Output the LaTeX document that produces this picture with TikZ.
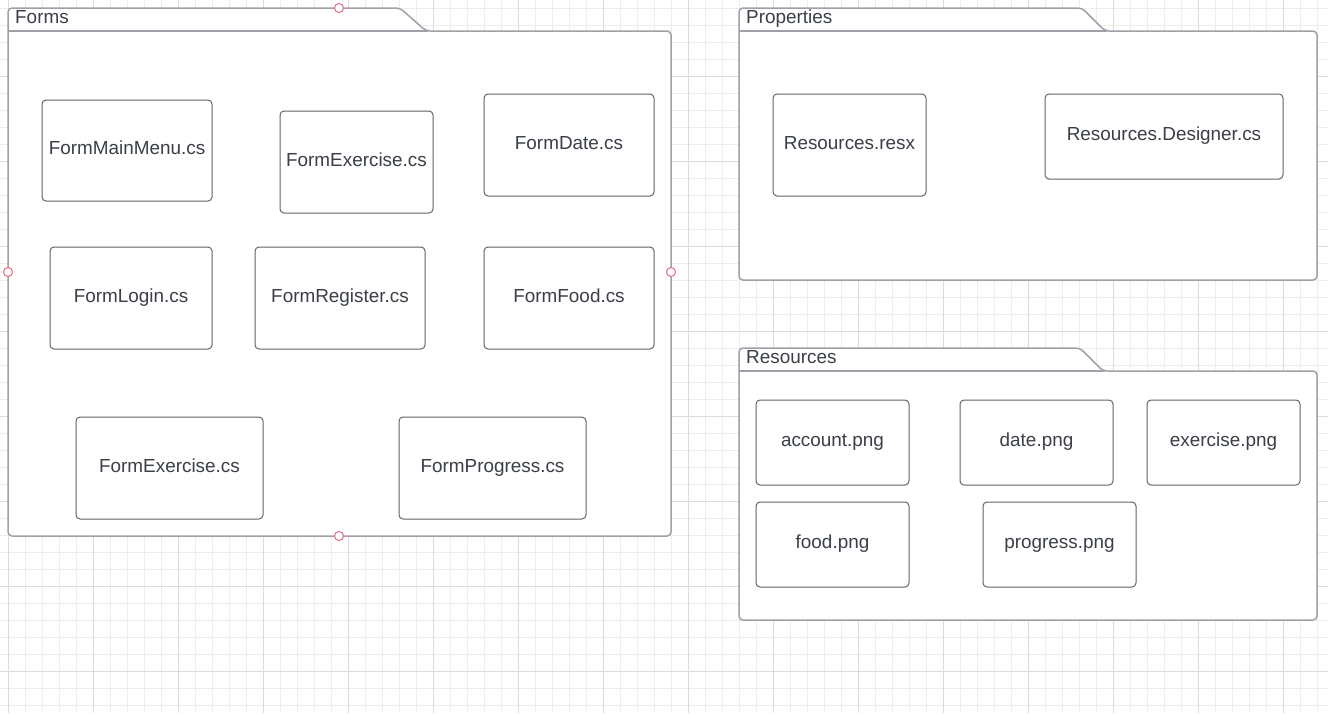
\documentclass[tikz,border=0pt]{standalone}
\usepackage{fontspec}
\setmainfont{Liberation Sans}
\usetikzlibrary{positioning}

\definecolor{gridlight}{HTML}{EDEDED}
\definecolor{griddark}{HTML}{DCDCDC}
\definecolor{foldergray}{HTML}{9EA1A7}
\definecolor{filegray}{HTML}{5F636B}
\definecolor{textgray}{HTML}{3A3F48}
\definecolor{handlered}{HTML}{E86A7C}

\tikzset{
  label font/.style={font=\fontsize{18.9}{22}\selectfont, text=textgray},
  file/.style={draw=filegray, line width=1pt, rounded corners=4, fill=white,
    label font, inner sep=0pt, text height=13.5pt, text depth=5pt},
  folder/.style={draw=foldergray, line width=1.5pt, fill=white},
  foldertitle/.style={label font, anchor=west, inner sep=0pt, text height=13.5pt, text depth=4pt},
  handle/.style={draw=handlered, line width=1pt, fill=white},
  gridminor/.style={draw=gridlight, line width=1pt},
  gridmajor/.style={draw=griddark, line width=1pt}
}

\begin{document}
\begin{tikzpicture}[x=1pt, y=-1pt]
      \useasboundingbox (0,0) rectangle (1328,713);
      \fill[white] (0,0) rectangle (1328,713);

      % background grid
      \foreach \i in {0,...,77} \draw[gridminor] ({8.3+17*\i},0) -- ++(0,713);
      \foreach \j in {0,...,41} \draw[gridminor] (0,{8.3+17*\j}) -- ++(1328,0);
      \foreach \i in {0,...,15} \draw[gridmajor] ({8.3+85*\i},0) -- ++(0,713);
      \foreach \j in {0,...,7} \draw[gridmajor] (0,{76.3+85*\j}) -- ++(1328,0);

      % folders
      \draw[folder, rounded corners=4] (8,31) -- (8,8) -- (400,8) -- (426,31) -- (671,31)
            -- (671,536) -- (8,536) -- cycle;
      \draw[folder] (8,31) -- (428,31);
      \node[foldertitle] (formstitle) at (15,19) {Forms};

      \draw[folder, rounded corners=4] (739,31) -- (739,8) -- (1082,8) -- (1105,31) -- (1317,31)
            -- (1317,280) -- (739,280) -- cycle;
      \draw[folder] (739,31) -- (1107,31);
      \node[foldertitle] (propertiestitle) at (746,19) {Properties};

      \draw[folder, rounded corners=4] (739,371) -- (739,348) -- (1080,348) -- (1103,371) -- (1317,371)
            -- (1317,620) -- (739,620) -- cycle;
      \draw[folder] (739,371) -- (1105,371);
      \node[foldertitle] (resourcestitle) at (746,359) {Resources};

      % Forms
      \node[file, minimum width=170, minimum height=101] (mainmenu) at (127,150.5) {FormMainMenu.cs};
      \node[file, minimum width=153, minimum height=102] (exercise) at (356.5,162) {FormExercise.cs};
      \node[file, minimum width=170, minimum height=102] (date) at (569,145) {FormDate.cs};
      \node[file, minimum width=162, minimum height=102] (login) at (131,298) {FormLogin.cs};
      \node[file, minimum width=170, minimum height=102] (register) at (340,298) {FormRegister.cs};
      \node[file, minimum width=170, minimum height=102] (food) at (569,298) {FormFood.cs};
      \node[file, minimum width=187, minimum height=102] (exercisetwo) at (169.5,468) {FormExercise.cs};
      \node[file, minimum width=187, minimum height=102] (progress) at (492.5,468) {FormProgress.cs};

      % Properties
      \node[file, minimum width=153, minimum height=102] (resx) at (849.5,145) {Resources.resx};
      \node[file, minimum width=238, minimum height=85] (designer) at (1164,136.5) {Resources.Designer.cs};

      % Resources
      \node[file, minimum width=153, minimum height=85] (accountpng) at (832.5,442.5) {account.png};
      \node[file, minimum width=153, minimum height=85] (datepng) at (1036.5,442.5) {date.png};
      \node[file, minimum width=153, minimum height=85] (exercisepng) at (1223.5,442.5) {exercise.png};
      \node[file, minimum width=153, minimum height=85] (foodpng) at (832.5,544.5) {food.png};
      \node[file, minimum width=153, minimum height=85] (progresspng) at (1059.5,544.5) {progress.png};

      % selection handles
      \draw[handle] (339,8) circle (4.5);
      \draw[handle] (8,272) circle (4.5);
      \draw[handle] (671,272) circle (4.5);
      \draw[handle] (339,536) circle (4.5);
    \end{tikzpicture}
\end{document}
